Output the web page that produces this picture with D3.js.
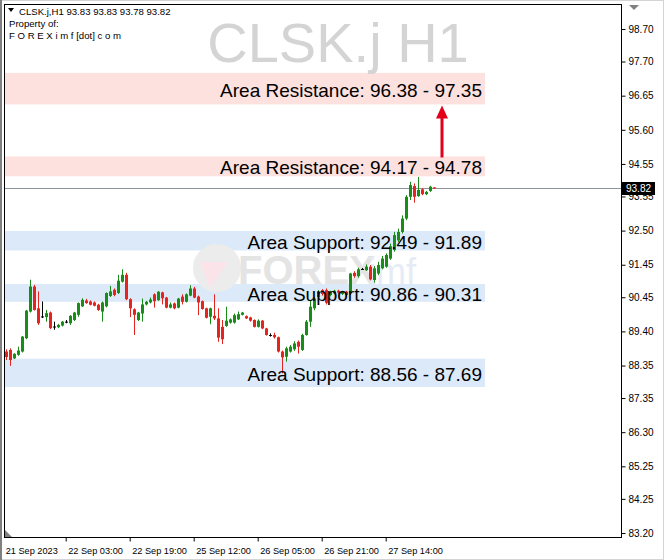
<!DOCTYPE html>
<html><head><meta charset="utf-8">
<script src="https://cdn.jsdelivr.net/npm/d3@7/dist/d3.min.js"></script>
<style>body{margin:0;background:#fff}svg{display:block}</style>
</head><body>
<svg id="c" width="664" height="560"></svg>
<script>
// ---------- data ----------
const openV = [88.78,88.83,88.57,88.68,88.78,89.19,90.01,90.78,90.11,89.86,89.84,89.98,89.55,89.53,89.58,89.70,89.65,89.75,89.91,90.17,90.35,90.32,90.29,90.22,90.01,90.17,90.49,90.68,90.58,90.93,91.14,90.39,90.08,89.75,89.95,90.23,90.29,90.54,90.36,90.60,90.44,90.13,90.26,90.13,90.47,90.31,90.50,90.72,90.47,90.33,90.11,89.85,89.88,89.80,89.54,89.57,89.67,89.67,89.77,89.91,89.87,89.83,89.75,89.54,89.73,89.49,89.29,89.29,89.22,88.78,88.62,88.78,88.85,89.08,88.83,89.29,89.70,90.11,90.46,90.67,90.67,90.52,90.57,90.65,90.55,90.62,90.57,91.20,91.10,91.32,91.28,91.39,90.98,91.18,91.34,91.39,91.64,91.90,92.20,92.46,92.87,93.54,93.87,93.56,93.77,93.62,93.72,93.83];
const highV = [88.85,88.88,88.73,88.93,89.26,90.06,90.99,90.83,90.63,90.32,90.06,90.01,89.70,89.63,89.72,89.75,89.90,90.00,90.29,90.42,90.40,90.35,90.32,90.25,90.32,90.60,90.80,90.72,91.14,91.31,91.20,90.42,90.11,90.00,90.41,90.34,90.44,90.57,90.64,90.62,90.46,90.29,90.29,90.43,90.54,90.57,90.82,90.77,90.50,90.35,90.13,90.13,90.54,90.11,89.75,90.16,89.80,89.95,90.01,90.00,89.89,89.85,89.77,89.77,89.75,89.51,89.34,89.36,89.24,88.81,88.93,88.98,89.10,89.12,89.33,89.75,90.36,90.46,90.67,90.70,90.72,90.65,90.68,90.68,90.65,90.65,91.20,91.25,91.36,91.35,91.46,91.44,91.41,91.54,91.72,91.80,92.10,92.46,92.56,92.97,93.59,94.00,93.95,94.15,93.80,93.72,93.88,93.83];
const lowV = [88.52,88.34,88.55,88.65,88.75,89.16,89.98,90.04,89.60,89.81,89.70,89.47,89.45,89.50,89.55,89.65,89.60,89.72,89.85,90.15,90.25,90.20,90.17,90.03,89.70,90.14,90.46,90.48,90.55,90.90,90.36,89.84,89.29,89.72,89.70,90.20,90.26,90.13,90.34,90.23,90.11,90.11,90.08,90.11,90.23,90.29,90.48,90.42,89.90,90.07,89.80,89.62,89.75,89.08,89.01,89.54,89.64,89.64,89.75,89.89,89.78,89.70,89.52,89.52,89.47,89.27,89.24,89.18,88.75,88.11,88.47,88.75,88.80,88.72,88.80,89.27,89.54,90.05,90.41,90.50,90.23,90.48,90.54,90.56,90.52,90.49,90.52,91.05,91.05,91.29,91.26,90.97,90.90,91.13,91.31,91.36,91.60,91.85,92.15,92.41,92.82,93.44,93.36,93.54,93.59,93.59,93.69,93.78];
const closeV = [88.61,88.52,88.71,88.81,89.24,90.04,90.78,90.06,89.65,89.86,89.96,89.50,89.55,89.60,89.70,89.70,89.88,89.98,90.27,90.37,90.27,90.22,90.19,90.06,90.29,90.58,90.63,90.52,90.96,91.14,90.39,90.11,89.91,89.98,90.23,90.31,90.38,90.33,90.62,90.42,90.13,90.23,90.11,90.41,90.31,90.54,90.72,90.44,90.29,90.09,89.82,90.11,89.80,89.21,89.16,89.73,89.77,89.90,89.93,89.98,89.80,89.73,89.54,89.73,89.49,89.29,89.29,89.22,88.78,88.60,88.88,88.93,89.03,88.93,89.29,89.70,90.16,90.41,90.62,90.55,90.28,90.62,90.65,90.59,90.62,90.52,91.18,91.10,91.31,91.32,91.39,91.00,91.34,91.44,91.64,91.75,92.02,92.36,92.46,92.87,93.54,93.90,93.54,93.75,93.62,93.69,93.85,93.82];

const yTickValues = [98.70,97.70,96.65,95.60,94.55,93.55,92.50,91.45,90.45,89.40,88.35,87.35,86.30,85.25,84.25,83.20];
const xTickIndex = [0,15,31,47,63,79,95];
const xTickLabels = ["21 Sep 2023","22 Sep 03:00","22 Sep 19:00","25 Sep 12:00","26 Sep 05:00","26 Sep 21:00","27 Sep 14:00"];

const zoneLow  = [96.38, 94.17, 91.89, 90.31, 87.69];
const zoneHigh = [97.35, 94.78, 92.49, 90.86, 88.56];
const zoneType = ["res","res","sup","sup","sup"];
const zoneLabels = ["Area Resistance: 96.38 - 97.35","Area Resistance: 94.17 - 94.78","Area Support: 92.49 - 91.89","Area Support: 90.86 - 90.31","Area Support: 88.56 - 87.69"];

const symbol = "CLSK.j H1";
const headerLines = ["CLSK.j,H1  93.83 93.83 93.78 93.82","Property of:","F O R E X i m f [dot] c o m"];
const lastPrice = 93.82;

// ---------- layout ----------
const L = 4, R = 622, T = 4, B = 538;
const svg = d3.select("#c");
const font = "'Liberation Sans', Arial, sans-serif";

const y = d3.scaleLinear().domain([83.20, 98.70]).range([533, 29]);
const x = d3.scaleLinear().domain([0, openV.length - 1]).range([5.7, 433.7]);

svg.append("rect").attr("width",664).attr("height",560).attr("fill","#fff");
// outer border
svg.append("rect").attr("x",0.5).attr("y",0.5).attr("width",663).attr("height",559)
  .attr("fill","none").attr("stroke","#d4d4d4");
svg.append("line").attr("x1",1).attr("x2",1).attr("y1",0).attr("y2",560).attr("stroke","#808080").attr("stroke-width",2);

svg.append("defs").append("clipPath").attr("id","plot").append("rect")
  .attr("x",L).attr("y",T).attr("width",R-L).attr("height",B-T);
const g = svg.append("g").attr("clip-path","url(#plot)");

// zones
const zoneRight = 485;
g.selectAll("rect.zone").data(zoneLow).join("rect").attr("class","zone")
  .attr("x", L).attr("width", zoneRight - L)
  .attr("y", (d,i) => y(zoneHigh[i]))
  .attr("height", (d,i) => y(zoneLow[i]) - y(zoneHigh[i]))
  .attr("fill", (d,i) => zoneType[i] === "res" ? "#fde1de" : "#dbe9f8");

// title watermark
g.append("text").attr("x", 338).attr("y", 62).attr("text-anchor","middle")
  .attr("font-family", font).attr("font-size", 56).attr("fill","#d4d4d4").text(symbol);

// logo watermark
const wm = g.append("g");
wm.append("circle").attr("cx",217).attr("cy",268).attr("r",24).attr("fill","#ececec");
wm.append("path").attr("d","M200,262 L228,262 L210,288 Z").attr("fill","#fbe3ea");
wm.append("text").attr("x",238).attr("y",284).attr("font-family",font).attr("font-weight","bold")
  .attr("font-size",40).attr("fill","#e4e4e4").text("FOREX");
wm.append("text").attr("x",368).attr("y",284).attr("font-family",font)
  .attr("font-size",36).attr("fill","#e6ecf5").text("imf");

// price line
g.append("line").attr("x1",L).attr("x2",R).attr("y1",Math.round(y(lastPrice))+0.5).attr("y2",Math.round(y(lastPrice))+0.5)
  .attr("stroke","#8c949c").attr("stroke-width",1);

// candles
const idx = d3.range(openV.length);
const colorOf = i => closeV[i] > openV[i] ? "#1a8c1a" : (closeV[i] < openV[i] ? "#e3241f" : "#000");
const cg = g.append("g");
cg.selectAll("line.wick").data(idx).join("line").attr("class","wick")
  .attr("x1", i => Math.round(x(i)) + 0.5).attr("x2", i => Math.round(x(i)) + 0.5)
  .attr("y1", i => y(highV[i])).attr("y2", i => y(lowV[i]))
  .attr("stroke", colorOf).attr("stroke-width",1);
cg.selectAll("rect.body").data(idx).join("rect").attr("class","body")
  .attr("x", i => Math.round(x(i)) - 1).attr("width", 3)
  .attr("y", i => Math.min(y(openV[i]), y(closeV[i])))
  .attr("height", i => Math.max(1, Math.abs(y(openV[i]) - y(closeV[i]))))
  .attr("fill", colorOf);

// zone labels
g.selectAll("text.zl").data(zoneLabels).join("text").attr("class","zl")
  .attr("x", 482).attr("y", (d,i) => (y(zoneHigh[i]) + y(zoneLow[i]))/2 + 8)
  .attr("text-anchor","end").attr("font-family", font).attr("font-size",19)
  .attr("fill","#000").text(d => d);

// arrow
const ax = 442;
g.append("line").attr("x1",ax).attr("x2",ax).attr("y1",y(94.78)+1).attr("y2",y(96.38)+12)
  .attr("stroke","#e3001b").attr("stroke-width",3);
g.append("path").attr("d",`M${ax-6},${y(96.38)+14} L${ax+6},${y(96.38)+14} L${ax},${y(96.38)+1} Z`).attr("fill","#e3001b");

// frame
svg.append("rect").attr("x",L+0.5).attr("y",T+0.5).attr("width",R-L-1).attr("height",B-T-1)
  .attr("fill","none").attr("stroke","#000");

// y axis
const yAxis = d3.axisRight(y).tickValues(yTickValues).tickSize(4).tickPadding(3).tickFormat(d => d.toFixed(2));
const ya = svg.append("g").attr("transform",`translate(${R-0.5},0)`).call(yAxis);
ya.select(".domain").remove();
ya.selectAll("text").attr("font-family",font).attr("font-size",10).attr("fill","#000");
ya.selectAll("line").attr("stroke","#000");

// current price tag
const py = Math.round(y(lastPrice));
svg.append("rect").attr("x",R).attr("y",py-6).attr("width",33).attr("height",13).attr("fill","#000");
svg.append("text").attr("x",R+4).attr("y",py+4).attr("font-family",font).attr("font-size",10)
  .attr("fill","#fff").text(lastPrice.toFixed(2));

// x axis
const xAxis = d3.axisBottom(x).tickValues(xTickIndex).tickSize(4)
  .tickFormat((d,i) => xTickLabels[i]);
const xa = svg.append("g").attr("transform",`translate(0,${B-0.5})`).call(xAxis);
xa.select(".domain").remove();
xa.selectAll("line").attr("stroke","#000");
xa.selectAll("text").attr("font-family",font).attr("font-size",9.2).attr("fill","#000")
  .attr("text-anchor","start").attr("dx", (d,i) => i === 0 ? -0.5 : 2).attr("dy","1em");
xa.selectAll(".tick").filter((d,i)=> i===0).select("line").remove();

// header
const hg = svg.append("g").attr("font-family",font).attr("font-size",9.6).attr("fill","#000");
hg.append("path").attr("d","M8,8 L14,8 L11,12 Z").attr("fill","#000");
hg.selectAll("text").data(headerLines).join("text")
  .attr("x",(d,i)=> i===0 ? 19 : 9).attr("y",(d,i)=> 15 + i*12).text(d => d);

// small markers
svg.append("path").attr("d","M5,530 L5,537 L12,537 Z").attr("fill","#808080");
svg.append("path").attr("d","M629,5 L639,5 L634,10 Z").attr("fill","#808080");
</script>
</body></html>
